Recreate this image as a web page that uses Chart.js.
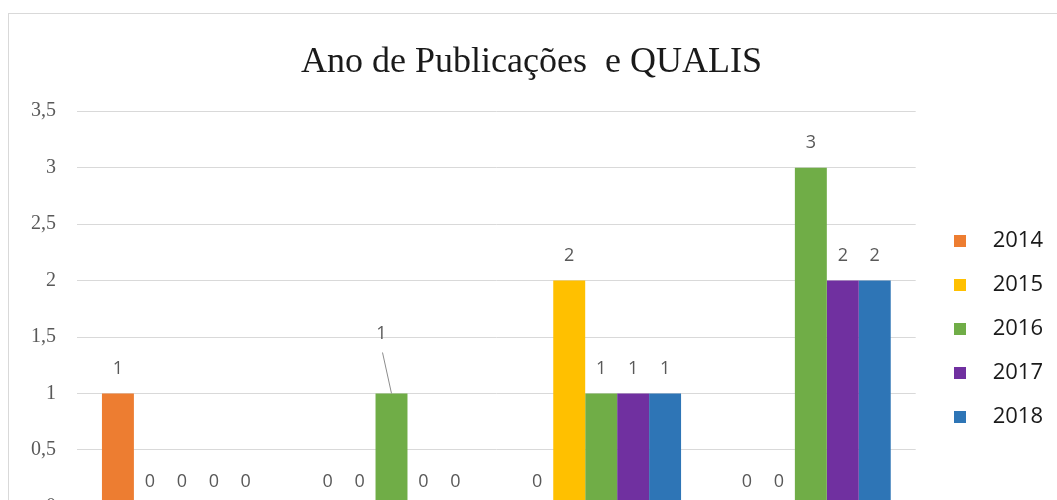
<!DOCTYPE html>
<html>
<head>
<meta charset="utf-8">
<script src="https://cdn.jsdelivr.net/npm/chart.js@4.4.1/dist/chart.umd.min.js"></script>
<style>
  html, body { margin: 0; padding: 0; width: 1057px; height: 500px; overflow: hidden; background: #ffffff; }
  #frame { position: absolute; left: 8px; top: 13px; width: 1100px; height: 600px; border: 1px solid #d9d9d9; box-sizing: border-box; }
  #wrap { position: absolute; left: 0; top: 0; width: 1057px; height: 560px; }
</style>
</head>
<body>
<div id="frame"></div>
<div id="wrap"><canvas id="chart"></canvas></div>
<script>
// QUALIS strata and publication counts per year
const categories = ['A1', 'A2', 'B1', 'B2'];
const years = ['2014', '2015', '2016', '2017', '2018'];
const v2014 = [1, 0, 0, 0];
const v2015 = [0, 0, 2, 0];
const v2016 = [0, 1, 1, 3];
const v2017 = [0, 0, 1, 2];
const v2018 = [0, 0, 1, 2];
const yTicks = [0, 0.5, 1, 1.5, 2, 2.5, 3, 3.5];

const seriesValues = [v2014, v2015, v2016, v2017, v2018];
const seriesColors = ['#ED7D31', '#FFC000', '#70AD47', '#7030A0', '#2E75B6'];

// small filled squares used as legend markers
function swatch(color) {
  const c = document.createElement('canvas');
  c.width = 12; c.height = 12;
  const g = c.getContext('2d');
  g.fillStyle = color;
  g.fillRect(0, 0, 12, 12);
  return c;
}
const swatches = seriesColors.map(swatch);

// label that is pulled away from its bar and joined to it by a leader line
const movedLabels = { '2:1': { dx: -10, dy: -35 } };

const valueLabels = {
  id: 'valueLabels',
  afterDatasetsDraw(chart) {
    const ctx = chart.ctx;
    ctx.save();
    ctx.font = '18px "Open Sans"';
    ctx.fillStyle = '#595959';
    ctx.textAlign = 'center';
    ctx.textBaseline = 'middle';
    chart.data.datasets.forEach((ds, di) => {
      const meta = chart.getDatasetMeta(di);
      meta.data.forEach((bar, i) => {
        let x = bar.x;
        let y = bar.y - 25;
        const m = movedLabels[di + ':' + i];
        if (m) {
          x += m.dx; y += m.dy;
          ctx.save();
          ctx.strokeStyle = '#8c8c8c';
          ctx.lineWidth = 1;
          ctx.beginPath();
          ctx.moveTo(x + 1, y + 19);
          ctx.lineTo(bar.x, bar.y);
          ctx.stroke();
          ctx.restore();
        }
        ctx.fillText(String(ds.data[i]), x, y);
      });
    });
    ctx.restore();
  }
};

new Chart(document.getElementById('chart'), {
  type: 'bar',
  data: {
    labels: categories,
    datasets: years.map((y, i) => ({
      label: y,
      data: seriesValues[i],
      backgroundColor: seriesColors[i],
      borderWidth: 0,
      barPercentage: 1,
      categoryPercentage: 0.762
    }))
  },
  options: {
    responsive: true,
    maintainAspectRatio: false,
    animation: false,
    layout: { padding: { left: 10, right: 4, top: 0, bottom: 18 } },
    plugins: {
      tooltip: { enabled: false },
      title: {
        display: true,
        text: 'Ano de Publicações  e QUALIS',
        color: '#1a1a1a',
        font: { family: '"Liberation Serif", serif', size: 36, weight: 'normal' },
        padding: { top: 41, bottom: 27 }
      },
      legend: {
        display: true,
        position: 'right',
        align: 'center',
        fullSize: false,
        title: { display: true, text: ' ', font: { size: 12 }, padding: 13 },
        labels: {
          usePointStyle: true,
          pointStyleWidth: 44,
          padding: 22,
          color: '#1a1a1a',
          font: { family: '"Open Sans", sans-serif', size: 22 },
          generateLabels(chart) {
            const items = Chart.defaults.plugins.legend.labels.generateLabels(chart);
            items.forEach((it, i) => { it.pointStyle = swatches[i]; });
            return items;
          }
        }
      }
    },
    scales: {
      x: {
        grid: { display: false },
        border: { display: true, color: '#d9d9d9' },
        ticks: { color: '#595959', font: { family: '"Liberation Serif", serif', size: 18 } }
      },
      y: {
        min: 0,
        max: 3.5,
        afterBuildTicks(scale) { scale.ticks = yTicks.map(v => ({ value: v })); },
        grid: { color: '#d9d9d9', lineWidth: 1, drawTicks: false },
        border: { display: false },
        ticks: {
          padding: 21,
          color: '#595959',
          font: { family: '"Liberation Serif", serif', size: 20 },
          callback: v => String(v).replace('.', ',')
        }
      }
    }
  },
  plugins: [valueLabels]
});
</script>
</body>
</html>
